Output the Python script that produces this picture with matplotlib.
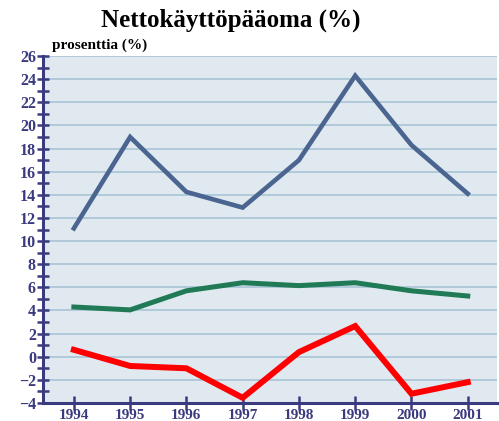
import matplotlib
matplotlib.use("Agg")
from matplotlib import pyplot as plt
from matplotlib.ticker import MultipleLocator

years = [1994, 1995, 1996, 1997, 1998, 1999, 2000, 2001]
blue_vals = [11.1, 19.0, 14.25, 12.9, 17.0, 24.3, 18.3, 14.1]
green_vals = [4.3, 4.05, 5.7, 6.4, 6.15, 6.4, 5.7, 5.25]
red_vals = [0.6, -0.8, -1.0, -3.55, 0.4, 2.65, -3.2, -2.2]
yticks = list(range(-4, 27, 2))

navy = "#3a3a7e"
plt.rcParams["font.family"] = ["Liberation Serif", "DejaVu Serif"]
plt.rcParams["font.weight"] = "bold"

fig = plt.figure(figsize=(4.99, 4.21), dpi=100)
ax = fig.add_axes([0.086, 0.0428, 0.91, 0.824])
ax.set_facecolor("#e0e8f0")

for v in yticks:
	ax.axhline(v, color="#a8c4d6", lw=1.2, zorder=1)

ax.plot(years, blue_vals, color="#4a6590", lw=3.3, zorder=3, solid_joinstyle="miter")
ax.plot(years, green_vals, color="#1f7a55", lw=3.6, zorder=3, solid_joinstyle="miter")
ax.plot(years, red_vals, color="#ff0000", lw=4.3, zorder=3, solid_joinstyle="miter")

ax.set_xlim(1993.45, 2001.52)
ax.set_ylim(-4, 26)
ax.set_xticks(years)
ax.set_yticks(yticks)
ax.yaxis.set_minor_locator(MultipleLocator(1))

for s in ["top", "right"]:
	ax.spines[s].set_visible(False)
for s in ["left", "bottom"]:
	ax.spines[s].set_color(navy)
	ax.spines[s].set_linewidth(2.2)

ax.tick_params(axis="y", which="both", direction="inout", length=8, width=1.8, color=navy,
	labelcolor=navy, labelsize=11.5, pad=1)
ax.tick_params(axis="x", which="major", direction="inout", length=10, width=1.8, color=navy,
	labelcolor=navy, labelsize=11, pad=-1)
for lab in ax.get_xticklabels() + ax.get_yticklabels():
	lab.set_fontweight("bold")

fig.text(0.463, 0.952, "Nettokäyttöpääoma (%)", ha="center", va="center", fontsize=18, fontweight="bold")
fig.text(0.105, 0.892, "prosenttia (%)", ha="left", va="center", fontsize=11, fontweight="bold")

plt.savefig("out.png", dpi=100)
